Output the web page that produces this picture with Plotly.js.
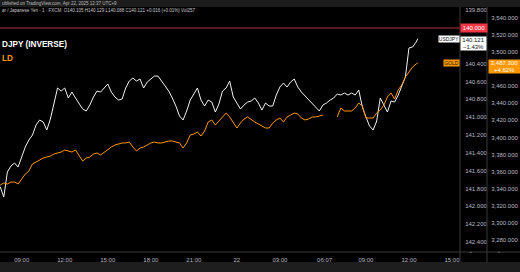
<!DOCTYPE html>
<html>
<head>
<meta charset="utf-8">
<script src="https://cdn.plot.ly/plotly-3.0.1.min.js"></script>
<style>html,body{margin:0;padding:0;background:#000;}#chart{width:520px;height:272px;}</style>
</head>
<body>
<div id="chart"></div>
<script>
// 15-minute sampling grid, JST, starting 2025-04-21 07:30; final bar at 12:37 on 04-22
const gridStart = Date.UTC(2025, 3, 21, 7, 30);
const gridStepMin = 15;
const gridCount = 117;
const lastTime = '2025-04-22 12:37';

const usdjpy = [
141.78,141.896,141.616,141.548,141.515,141.559,141.447,141.335,141.257,141.201,
141.089,141.033,141.055,141.145,141.022,140.842,140.674,140.708,140.674,140.786,
140.719,140.786,140.842,140.909,140.932,140.865,140.775,140.708,140.719,140.674,
140.629,140.719,140.775,140.809,140.797,140.674,140.596,140.562,140.596,140.573,
140.674,140.607,140.573,140.540,140.540,140.596,140.652,140.708,140.786,140.876,
140.988,141.033,140.932,140.809,140.741,140.674,140.809,140.876,140.809,140.831,
140.943,140.853,140.708,140.674,140.596,140.775,140.842,140.909,140.865,140.831,
140.820,140.786,140.842,140.921,140.842,140.876,140.876,140.753,140.663,140.618,
140.663,140.607,140.573,140.663,140.719,140.764,140.809,140.853,140.887,140.932,
140.865,140.842,140.809,140.786,140.741,140.753,140.730,140.753,140.730,140.753,
140.697,140.887,140.999,141.100,141.145,141.044,140.786,140.865,140.943,140.820,
140.831,140.753,140.652,140.551,140.226,140.215,140.159,140.121];

const gold = [
3344.3,3346.7,3345.5,3347.8,3347.8,3345.5,3351.3,3357.2,3360.7,3368.9,
3371.2,3373.6,3375.9,3377.1,3378.2,3380.6,3381.8,3382.9,3385.3,3384.1,
3382.9,3385.3,3379.4,3372.4,3375.9,3377.1,3380.6,3381.8,3379.4,3382.9,
3386.4,3388.8,3391.1,3392.3,3393.5,3393.5,3394.6,3388.8,3384.1,3387.6,
3388.8,3391.1,3393.5,3394.6,3393.5,3393.5,3394.6,3395.8,3395.8,3394.6,
3393.5,3387.6,3393.5,3402.8,3404.0,3406.3,3401.6,3407.5,3418.0,3420.4,
3414.5,3419.2,3423.9,3428.5,3423.9,3418.0,3411.0,3416.8,3421.5,3423.9,
3420.4,3418.0,3415.7,3413.3,3411.0,3411.0,3416.8,3420.4,3422.7,3418.0,
3423.9,3426.2,3428.5,3427.4,3422.7,3420.4,3421.5,3423.9,3423.9,3425.0,
3426.2,null,null,null,3423.9,3434.4,3430.9,3430.9,3430.9,3434.4,
3440.2,3436.7,3422.7,3422.7,3422.7,3428.5,3432.0,3437.9,3447.3,3451.9,
3444.9,3455.4,3461.3,3470.6,3476.5,3482.3,3485.8,3487.3];

const xTickVals = ['2025-04-21 09:00','2025-04-21 12:00','2025-04-21 15:00','2025-04-21 18:00','2025-04-21 21:00',
  '2025-04-22 00:00','2025-04-22 03:00','2025-04-22 06:07','2025-04-22 09:00','2025-04-22 12:00','2025-04-22 15:00'];
const xTickText = ['09:00','12:00','15:00','18:00','21:00','22','03:00','06:07','09:00','12:00','15:00'];
const jpyTicks = [139.8,140.4,140.6,140.8,141.0,141.2,141.4,141.6,141.8,142.0,142.2,142.4];
const goldTicks = [3540,3520,3500,3460,3440,3420,3400,3380,3360,3340,3320,3300,3280];

const jpyLevel = 140.0;
const jpyLast = '140.121', jpyChange = '−1.43%';
const goldLast = '3,487.300', goldChange = '+4.62%';
const headerText = 'ublished on TradingView.com, Apr 22, 2025 12:37 UTC+9';
const legendText = 'ar / Japanese Yen · 1 · FXCM  O140.105 H140.129 L140.088 C140.121 +0.016 (+0.01%) Vol257';

const times = [];
for (let k = 0; k < gridCount; k++) {
  times.push(new Date(gridStart + k * gridStepMin * 60000).toISOString().slice(0,16).replace('T',' '));
}
times.push(lastTime);

const W = 520, H = 272, mT = 7, mB = 20, mR = 33;
const plotW = W - mR, plotH = H - mT - mB;
const px = v => v / plotW;                 // pixel x -> paper
const py = v => (H - mB - v) / plotH;      // pixel y -> paper
const tickFont = {family: 'Liberation Sans, Arial, sans-serif', size: 6, color: '#b8bac0'};

const traces = [
  {x: times, y: gold, type: 'scatter', mode: 'lines', yaxis: 'y2',
   line: {color: '#ff9800', width: 1}, connectgaps: false, hoverinfo: 'skip'},
  {x: times, y: usdjpy, type: 'scatter', mode: 'lines', yaxis: 'y',
   line: {color: '#f2f2f2', width: 1}, hoverinfo: 'skip'}
];

const layout = {
  width: W, height: H,
  margin: {l: 0, r: mR, t: mT, b: mB, pad: 0},
  paper_bgcolor: '#000', plot_bgcolor: '#000',
  showlegend: false,
  font: {family: 'Liberation Sans, Arial, sans-serif'},
  xaxis: {type: 'date', domain: [0, px(460)],
    range: ['2025-04-21 07:29:12', '2025-04-22 15:33:30'],
    tickmode: 'array', tickvals: xTickVals, ticktext: xTickText,
    showgrid: false, zeroline: false, showline: false,
    ticks: 'outside', ticklen: 2, tickcolor: 'rgba(0,0,0,0)', tickfont: tickFont},
  yaxis: {range: [142.512, 139.766], side: 'right', anchor: 'x',
    tickmode: 'array', tickvals: jpyTicks, tickformat: '.3f',
    showgrid: false, zeroline: false, showline: false,
    ticks: 'outside', ticklen: 3, tickcolor: 'rgba(0,0,0,0)', tickfont: tickFont},
  yaxis2: {range: [3266, 3552.5], overlaying: 'y', side: 'right', anchor: 'free', position: 1,
    tickmode: 'array', tickvals: goldTicks, tickformat: ',.3f',
    showgrid: false, zeroline: false, showline: false,
    ticks: 'outside', ticklen: 2, tickcolor: 'rgba(0,0,0,0)', tickfont: tickFont},
  shapes: [
    {type: 'rect', xref: 'paper', yref: 'paper', x0: 0, x1: px(W), y0: 1, y1: py(0), fillcolor: '#1c1c1c', line: {width: 0}, layer: 'below'},
    {type: 'rect', xref: 'paper', yref: 'paper', x0: 0, x1: px(W), y0: py(H), y1: py(262), fillcolor: '#1e1e1e', line: {width: 0}},
    {type: 'line', xref: 'paper', yref: 'paper', x0: 0, x1: px(W), y0: 0, y1: 0, line: {color: '#3a3a3a', width: 1}},
    {type: 'line', xref: 'paper', yref: 'paper', x0: px(460), x1: px(460), y0: py(262), y1: 1, line: {color: '#3a3a3a', width: 1}},
    {type: 'line', xref: 'paper', yref: 'paper', x0: 1, x1: 1, y0: py(262), y1: 1, line: {color: '#3a3a3a', width: 1}},
    {type: 'line', xref: 'paper', yref: 'y', x0: 0, x1: px(460), y0: jpyLevel, y1: jpyLevel, line: {color: '#7a1d24', width: 1.5}, layer: 'below'}
  ],
  annotations: [
    {xref: 'paper', yref: 'paper', x: 0, y: py(3.8), xanchor: 'left', yanchor: 'middle', showarrow: false,
     text: headerText, font: {size: 4.5, color: '#bdbdbd'}},
    {xref: 'paper', yref: 'paper', x: 0, y: py(11), xanchor: 'left', yanchor: 'middle', showarrow: false,
     text: legendText, font: {size: 4.5, color: '#c8c8c8'}},
    {xref: 'paper', yref: 'paper', x: 0, y: py(44), xanchor: 'left', yanchor: 'middle', showarrow: false,
     text: '<b>DJPY (INVERSE)</b>', font: {size: 8.2, color: '#ffffff'}},
    {xref: 'paper', yref: 'paper', x: 0, y: py(58), xanchor: 'left', yanchor: 'middle', showarrow: false,
     text: '<b>LD</b>', font: {size: 8.2, color: '#ff9800'}},
    {xref: 'paper', yref: 'y', x: px(473.5), y: jpyLevel, xanchor: 'center', yanchor: 'middle', showarrow: false,
     text: '140.000', font: {size: 6, color: '#ffffff'}, bgcolor: '#f23645', width: 26, height: 8, borderpad: 0},
    {xref: 'paper', yref: 'y', x: px(473.5), y: usdjpy[usdjpy.length-1], xanchor: 'center', yanchor: 'top', yshift: 3, showarrow: false,
     text: jpyLast + '<br>' + jpyChange, font: {size: 6, color: '#131313'}, bgcolor: '#ffffff', width: 25, height: 13, borderpad: 0},
    {xref: 'paper', yref: 'y', x: px(459.5), y: usdjpy[usdjpy.length-1], xanchor: 'right', yanchor: 'middle', yshift: -0.5, showarrow: false,
     text: 'USDJPY', font: {size: 5, color: '#131313'}, bgcolor: '#ffffff', width: 20, height: 6, borderpad: 0},
    {xref: 'paper', yref: 'y2', x: px(459.5), y: gold[gold.length-1], xanchor: 'right', yanchor: 'middle', showarrow: false,
     text: 'GOLD', font: {size: 5, color: '#131313'}, bgcolor: '#ff9800', width: 15, height: 6, borderpad: 0},
    {xref: 'paper', yref: 'y2', x: px(504), y: gold[gold.length-1], xanchor: 'center', yanchor: 'top', yshift: 4.2, showarrow: false,
     text: goldLast + '<br>' + goldChange, font: {size: 6, color: '#ffffff'}, bgcolor: '#ff9800', width: 31, height: 13, borderpad: 0},
    {xref: 'paper', yref: 'paper', x: px(474), y: py(257), showarrow: false, text: '•', font: {size: 5, color: '#777'}},
    {xref: 'paper', yref: 'paper', x: px(502), y: py(257), showarrow: false, text: '•', font: {size: 5, color: '#777'}}
  ]
};

Plotly.newPlot('chart', traces, layout, {staticPlot: true, displayModeBar: false});
</script>
</body>
</html>
